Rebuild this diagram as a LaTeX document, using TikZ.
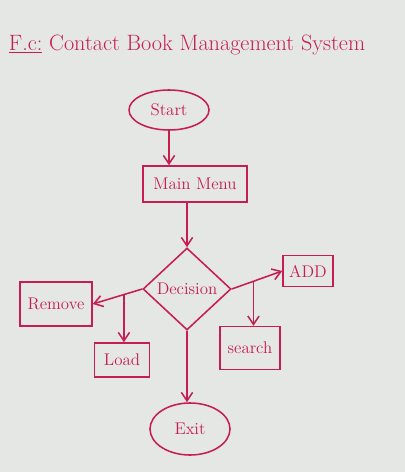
\documentclass[tikz,border=0pt]{standalone}
\usepackage{tikz}
\usetikzlibrary{shapes.geometric,arrows.meta,calc}
\definecolor{InkRed} {RGB}{198,30,80}
\definecolor{BoardBg}{RGB}{229,231,228}
\tikzset{
  nd_term/.style={
    ellipse, draw=InkRed, line width=1.1pt,
    minimum width=2cm, minimum height=1cm,
    inner sep=1pt, text=InkRed, font=\large},
  nd_box/.style={
    rectangle, draw=InkRed, line width=1.1pt,
    inner sep=2pt, text=InkRed, font=\large},
  nd_dec/.style={
    diamond, draw=InkRed, line width=1.1pt,
    minimum width=2.2cm, minimum height=2.05cm,
    inner sep=0pt, text=InkRed, font=\large},
  arr/.style={-{Straight Barb[length=6pt,width=8pt]},draw=InkRed,line width=1.1pt},
}

\begin{document}
\begin{tikzpicture}[x=0.025cm,y={(0cm,-0.025cm)}]

%% board
\fill[BoardBg] (0,0) rectangle (405,472);
\node[font=\fontsize{15.8}{18}\selectfont,text=InkRed,anchor=west] at (4,45) (title)
  {\underline{F.c:} Contact Book Management System};

%% ── main column ─────────────────────────────────────────────
\def\Cx{187}
\node[nd_term] at (169,110) (ST){Start};
\node[nd_box,minimum width=2.6cm,minimum height=0.9cm] at (195,184) (MM){Main Menu};
\node[nd_dec]  at (\Cx,289) (D){Decision};
\node[nd_term,minimum height=1.3cm] at (190,429) (EX){Exit};

%% ── branches ────────────────────────────────────────────────
\node[nd_box,minimum width=1.25cm,minimum height=0.78cm] at (308,271) (AD){ADD};
\node[nd_box,minimum width=1.5cm,minimum height=1.07cm]  at (250,348) (SR){search};
\node[nd_box,minimum width=1.8cm,minimum height=1.1cm]   at (56,304)  (RM){Remove};
\node[nd_box,minimum width=1.38cm,minimum height=0.85cm] at (122,360) (LD){Load};

\draw[arr] (ST.south)--(ST.south |- MM.north);
\draw[arr] (D.north |- MM.south)--(D.north);
\draw[arr] (D.east)--(AD.west);
\coordinate (JR) at ($(D.east)!0.43!(AD.west)$);
\draw[arr] (JR)--(JR |- SR.north);
\draw[arr] (D.west)--(RM.east);
\coordinate (JL) at ($(D.west)!0.37!(RM.east)$);
\draw[arr] (JL)--(JL |- LD.north);
\draw[arr] (D.south)--(D.south |- EX.north);

\end{tikzpicture}
\end{document}
